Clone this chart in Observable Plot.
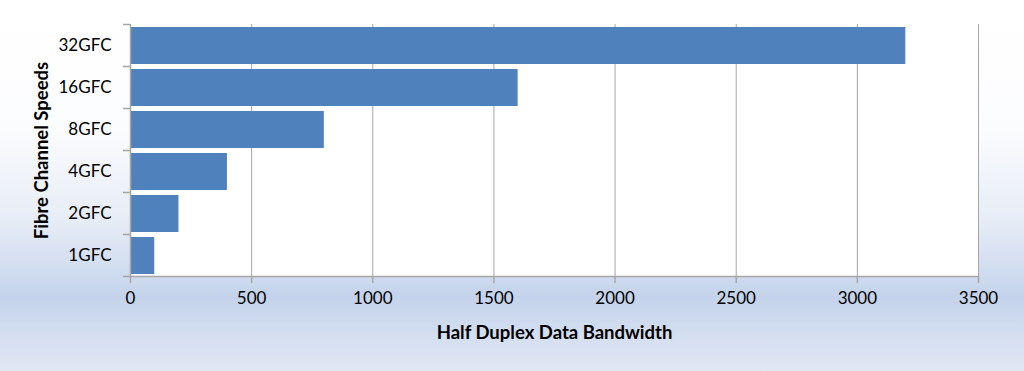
<!DOCTYPE html>
<html>
<head>
<meta charset="utf-8">
<script src="https://cdn.jsdelivr.net/npm/d3@7"></script>
<script src="https://cdn.jsdelivr.net/npm/@observablehq/plot@0.6"></script>
<style>
  html, body { margin: 0; padding: 0; }
  body {
    width: 1024px; height: 371px; overflow: hidden;
    background: linear-gradient(to bottom, #ffffff 0%, #fbfcfe 35%, #e6ecf6 60%, #c4d3eb 80%, #d3def0 90%, #e0e7f3 100%);
  }
  #chart svg { display: block; background: transparent; }
</style>
</head>
<body>
<div id="chart"></div>
<script>
const categories = ["32GFC", "16GFC", "8GFC", "4GFC", "2GFC", "1GFC"];
const values = [3200, 1600, 800, 400, 200, 100];
const xTicks = [0, 500, 1000, 1500, 2000, 2500, 3000, 3500];
const xTitle = "Half Duplex Data Bandwidth";
const yTitle = "Fibre Channel Speeds";

const data = categories.map((c, i) => ({ cat: c, value: values[i], i }));
const n = categories.length;
const boundaries = d3.range(n + 1);
const centers = d3.range(n).map(i => i + 0.5);

const font = "Lato, 'Open Sans', sans-serif";
const gray = "#a6a6a6";

const chart = Plot.plot({
  width: 1024,
  height: 371,
  marginTop: 24,
  marginBottom: 95,
  marginLeft: 130,
  marginRight: 46,
  style: { fontFamily: font, fontSize: "16px", color: "#000", background: "transparent" },
  x: { domain: [0, 3500] },
  y: { domain: [0, n], reverse: true },
  marks: [
    Plot.frame({ fill: "white", stroke: null }),
    Plot.gridX(xTicks.slice(1), { stroke: gray, strokeOpacity: 1, strokeWidth: 1 }),
    Plot.rectX(data, {
      x1: 0, x2: "value",
      y1: d => d.i, y2: d => d.i + 1,
      insetTop: 3, insetBottom: 2,
      fill: "#4f81bd"
    }),
    Plot.ruleX([0], { stroke: gray, strokeWidth: 1.5 }),
    Plot.ruleY([n], { stroke: gray, strokeWidth: 1.5 }),
    Plot.axisX({
      ticks: xTicks, tickSize: 7, tickPadding: 8, stroke: gray, strokeWidth: 1.5,
      tickFormat: d => String(d),
      fill: "#000",
      label: null
    }),
    Plot.axisY({
      ticks: boundaries, tickSize: 7, tickFormat: () => "", stroke: gray, strokeWidth: 1.5,
      label: null
    }),
    Plot.axisY({
      ticks: centers, tickSize: 0, tickPadding: 19,
      tickFormat: v => categories[Math.floor(v)],
      fill: "#000",
      label: yTitle, labelAnchor: "center", labelOffset: 96, labelArrow: "none"
    }),
    Plot.axisX({
      ticks: [], tickSize: 0,
      label: xTitle, labelAnchor: "center", labelOffset: 62, labelArrow: "none"
    })
  ]
});

chart.querySelectorAll("[aria-label^='x-axis tick label']").forEach(g => {
  g.setAttribute("font-size", "17");
  g.querySelectorAll("text").forEach(t => t.setAttribute("font-size", "17"));
});
chart.querySelectorAll("[aria-label^='y-axis tick label']").forEach(g => {
  g.setAttribute("font-size", "17");
  g.querySelectorAll("text").forEach(t => t.setAttribute("font-size", "17"));
});
chart.querySelectorAll("[aria-label='y-axis label'], [aria-label='x-axis label']").forEach(g => {
  g.setAttribute("font-size", "18.5");
  g.setAttribute("font-weight", "bold");
  g.querySelectorAll("text").forEach(t => {
    t.setAttribute("font-weight", "bold");
    t.setAttribute("font-size", "18.5");
    t.setAttribute("fill", "#000");
  });
});
document.getElementById("chart").appendChild(chart);
</script>
</body>
</html>
